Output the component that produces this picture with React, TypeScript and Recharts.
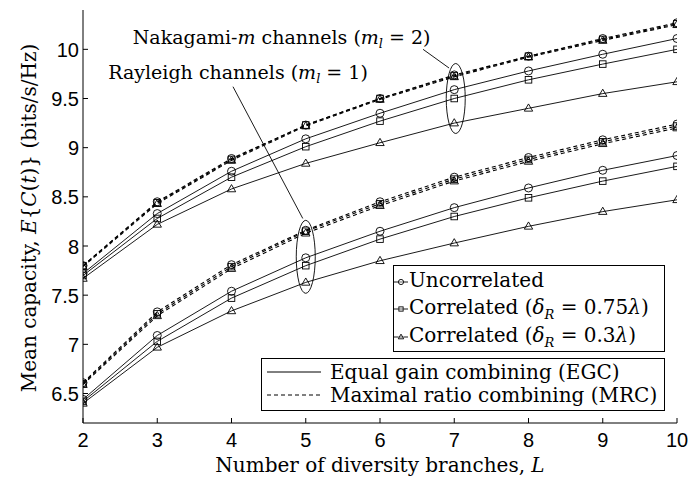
import React from "react";
import { LineChart, Line, XAxis, YAxis, ReferenceDot, ReferenceLine } from "recharts";

// number of diversity branches
const branches = [2, 3, 4, 5, 6, 7, 8, 9, 10];
const yTicks = [6.5, 7, 7.5, 8, 8.5, 9, 9.5, 10];

// Rayleigh channels (m_l = 1)
const rayEgcUnc = [6.44, 7.09, 7.54, 7.88, 8.15, 8.39, 8.59, 8.77, 8.92];
const rayEgc075 = [6.42, 7.03, 7.47, 7.8, 8.07, 8.3, 8.49, 8.66, 8.81];
const rayEgc03 = [6.4, 6.97, 7.34, 7.63, 7.85, 8.03, 8.2, 8.35, 8.47];
const rayMrcUnc = [6.61, 7.33, 7.81, 8.16, 8.45, 8.7, 8.9, 9.08, 9.24];
const rayMrc075 = [6.6, 7.31, 7.79, 8.15, 8.43, 8.68, 8.88, 9.06, 9.22];
const rayMrc03 = [6.59, 7.29, 7.77, 8.13, 8.41, 8.66, 8.86, 9.04, 9.2];

// Nakagami-m channels (m_l = 2)
const nakEgcUnc = [7.72, 8.33, 8.76, 9.09, 9.35, 9.59, 9.78, 9.95, 10.11];
const nakEgc075 = [7.7, 8.28, 8.7, 9.01, 9.27, 9.5, 9.69, 9.85, 10.0];
const nakEgc03 = [7.67, 8.22, 8.58, 8.84, 9.05, 9.25, 9.4, 9.55, 9.67];
const nakMrcUnc = [7.8, 8.45, 8.89, 9.23, 9.5, 9.74, 9.93, 10.11, 10.27];
const nakMrc075 = [7.8, 8.44, 8.88, 9.23, 9.5, 9.73, 9.93, 10.1, 10.26];
const nakMrc03 = [7.79, 8.43, 8.87, 9.22, 9.49, 9.72, 9.92, 10.09, 10.25];

// annotation anchors (branches, capacity)
const nakText = { x: 2.67, y: 10.054 };
const rayText = { x: 2.34, y: 9.7 };
const nakPointer = [{ x: 6.58, y: 10.0 }, { x: 6.93, y: 9.81 }];
const rayPointer = [{ x: 4.02, y: 9.62 }, { x: 4.96, y: 8.28 }];
const nakEllipse = { x: 7.02, y: 9.5 };
const rayEllipse = { x: 5, y: 7.89 };

const series = [
  { key: "rayEgcUnc", values: rayEgcUnc, dashed: false, marker: "circle" },
  { key: "rayEgc075", values: rayEgc075, dashed: false, marker: "square" },
  { key: "rayEgc03", values: rayEgc03, dashed: false, marker: "triangle" },
  { key: "rayMrcUnc", values: rayMrcUnc, dashed: true, marker: "circle" },
  { key: "rayMrc075", values: rayMrc075, dashed: true, marker: "square" },
  { key: "rayMrc03", values: rayMrc03, dashed: true, marker: "triangle" },
  { key: "nakEgcUnc", values: nakEgcUnc, dashed: false, marker: "circle" },
  { key: "nakEgc075", values: nakEgc075, dashed: false, marker: "square" },
  { key: "nakEgc03", values: nakEgc03, dashed: false, marker: "triangle" },
  { key: "nakMrcUnc", values: nakMrcUnc, dashed: true, marker: "circle" },
  { key: "nakMrc075", values: nakMrc075, dashed: true, marker: "square" },
  { key: "nakMrc03", values: nakMrc03, dashed: true, marker: "triangle" },
];

const rows = branches.map((L, i) => {
  const r: Record<string, number> = { L };
  series.forEach((s) => (r[s.key] = s.values[i]));
  return r;
});

const SERIF = "'DejaVu Serif', serif";
const SANS = "'Liberation Sans', Arial, sans-serif";

function Marker({ kind, cx, cy, s }: { kind: string; cx: number; cy: number; s: number }) {
  if (kind === "circle")
    return <circle cx={cx} cy={cy} r={s} fill="none" stroke="#000" strokeWidth={0.9} />;
  if (kind === "square")
    return (
      <rect x={cx - s * 0.82} y={cy - s * 0.82} width={s * 1.64} height={s * 1.64} fill="none" stroke="#000" strokeWidth={0.9} />
    );
  return (
    <polygon
      points={`${cx},${cy - s * 1.1} ${cx - s * 1.05},${cy + s * 0.7} ${cx + s * 1.05},${cy + s * 0.7}`}
      fill="none"
      stroke="#000"
      strokeWidth={0.9}
    />
  );
}

const BottomTick = (p: any) => (
  <g>
    <line x1={p.x} y1={p.y} x2={p.x} y2={p.y - 5} stroke="#000" />
    <text x={p.x} y={p.y + 24} textAnchor="middle" fontFamily={SANS} fontSize={20} fill="#000">
      {p.payload.value}
    </text>
  </g>
);
const TopTick = (p: any) => <line x1={p.x} y1={p.y} x2={p.x} y2={p.y + 5} stroke="#000" />;
const LeftTick = (p: any) => (
  <g>
    <line x1={p.x} y1={p.y} x2={p.x + 5} y2={p.y} stroke="#000" />
    <text x={p.x - 4} y={p.y + 7.5} textAnchor="end" fontFamily={SANS} fontSize={20} fill="#000">
      {p.payload.value}
    </text>
  </g>
);
const RightTick = (p: any) => <line x1={p.x} y1={p.y} x2={p.x - 5} y2={p.y} stroke="#000" />;

const YLabel = () => (
  <text transform="translate(36,218) rotate(-90)" textAnchor="middle" fontFamily={SERIF} fontSize={20} fill="#000">
    Mean capacity, <tspan fontStyle="italic">E</tspan>
    {"{"}
    <tspan fontStyle="italic">C</tspan>(<tspan fontStyle="italic">t</tspan>){"}"} (bits/s/Hz)
  </text>
);
const XLabel = () => (
  <text x={380} y={472} textAnchor="middle" fontFamily={SERIF} fontSize={20} fill="#000">
    Number of diversity branches, <tspan fontStyle="italic">L</tspan>
  </text>
);

const ChannelText = ({ cx, cy, name, italicM, ml }: any) => (
  <text x={cx} y={cy} fontFamily={SERIF} fontSize={19} fill="#000">
    {name}
    {italicM ? <tspan fontStyle="italic">m</tspan> : null} channels (<tspan fontStyle="italic">m</tspan>
    <tspan dy={4} fontSize={13} fontStyle="italic">l</tspan>
    <tspan dy={-4}> = {ml})</tspan>
  </text>
);

const LegendSample = ({ kind }: { kind: string }) => (
  <svg width={14} height={12} style={{ display: "inline-block", verticalAlign: "middle", marginRight: 1 }}>
    <line x1={0} y1={6} x2={4} y2={6} stroke="#000" strokeWidth={0.9} />
    <line x1={10} y1={6} x2={14} y2={6} stroke="#000" strokeWidth={0.9} />
    <line x1={4} y1={6} x2={10} y2={6} stroke="#000" strokeWidth={0.6} />
    <Marker kind={kind} cx={7} cy={6} s={2.6} />
  </svg>
);

const row = (top: number): React.CSSProperties => ({
  position: "absolute",
  top,
  left: 0,
  whiteSpace: "nowrap",
  lineHeight: "24px",
});

export default function App() {
  return (
    <div style={{ position: "absolute", left: 0, top: 0, width: 690, height: 480, background: "#fff" }}>
      <LineChart width={690} height={480} data={rows} margin={{ top: 10, right: 13, bottom: 0, left: 0 }}>
        <XAxis
          xAxisId="b"
          dataKey="L"
          type="number"
          domain={[2, 10]}
          ticks={branches}
          allowDataOverflow
          height={57}
          tickSize={0}
          tickMargin={0}
          axisLine={{ stroke: "#000" }}
          tick={BottomTick}
        />
        <XAxis
          xAxisId="t"
          dataKey="L"
          orientation="top"
          type="number"
          domain={[2, 10]}
          ticks={branches}
          allowDataOverflow
          height={0}
          tickSize={0}
          tickMargin={0}
          axisLine={{ stroke: "#000" }}
          tick={TopTick}
        />
        <YAxis
          yAxisId="l"
          type="number"
          domain={[6.2, 10.4]}
          ticks={yTicks}
          allowDataOverflow
          width={83}
          tickSize={0}
          tickMargin={0}
          axisLine={{ stroke: "#000" }}
          tick={LeftTick}
          label={<YLabel />}
        />
        <YAxis
          yAxisId="r"
          orientation="right"
          type="number"
          domain={[6.2, 10.4]}
          ticks={yTicks}
          allowDataOverflow
          width={0}
          tickSize={0}
          tickMargin={0}
          axisLine={{ stroke: "#000" }}
          tick={RightTick}
        />
        {series.map((s) => (
          <Line
            key={s.key}
            xAxisId="b"
            yAxisId="l"
            dataKey={s.key}
            type="linear"
            stroke="#000"
            strokeWidth={s.dashed ? 1.1 : 0.9}
            strokeDasharray={s.dashed ? "4 3" : undefined}
            isAnimationActive={false}
            dot={(p: any) => <Marker key={`${s.key}-${p.index}`} kind={s.marker} cx={p.cx} cy={p.cy} s={4} />}
            activeDot={false}
          />
        ))}
        <ReferenceLine xAxisId="b" yAxisId="l" segment={nakPointer} stroke="#000" strokeWidth={0.9} />
        <ReferenceLine xAxisId="b" yAxisId="l" segment={rayPointer} stroke="#000" strokeWidth={0.9} />
        <ReferenceDot
          xAxisId="b"
          yAxisId="l"
          x={nakEllipse.x}
          y={nakEllipse.y}
          shape={(p: any) => <ellipse cx={p.cx} cy={p.cy} rx={9.5} ry={35} fill="none" stroke="#000" strokeWidth={0.9} />}
        />
        <ReferenceDot
          xAxisId="b"
          yAxisId="l"
          x={rayEllipse.x}
          y={rayEllipse.y}
          shape={(p: any) => <ellipse cx={p.cx} cy={p.cy} rx={9.5} ry={36.5} fill="none" stroke="#000" strokeWidth={0.9} />}
        />
        <ReferenceDot
          xAxisId="b"
          yAxisId="l"
          x={nakText.x}
          y={nakText.y}
          shape={(p: any) => <ChannelText cx={p.cx} cy={p.cy} name="Nakagami-" italicM ml={2} />}
        />
        <ReferenceDot
          xAxisId="b"
          yAxisId="l"
          x={rayText.x}
          y={rayText.y}
          shape={(p: any) => <ChannelText cx={p.cx} cy={p.cy} name="Rayleigh" ml={1} />}
        />
        <XLabel />
      </LineChart>

      <div
        style={{
          position: "absolute",
          left: 393,
          top: 265,
          width: 270,
          height: 85,
          border: "1px solid #000",
          background: "#fff",
          fontFamily: SERIF,
          fontSize: 20,
        }}
      >
        <div style={{ ...row(2), left: 0 }}>
          <LegendSample kind="circle" />Uncorrelated
        </div>
        <div style={{ ...row(29), left: 0 }}>
          <LegendSample kind="square" />Correlated (<i>δ</i>
          <sub style={{ fontSize: 13, fontStyle: "italic" }}>R</sub> = 0.75<i>λ</i>)
        </div>
        <div style={{ ...row(57), left: 0 }}>
          <LegendSample kind="triangle" />Correlated (<i>δ</i>
          <sub style={{ fontSize: 13, fontStyle: "italic" }}>R</sub> = 0.3<i>λ</i>)
        </div>
      </div>

      <div
        style={{
          position: "absolute",
          left: 261,
          top: 358,
          width: 402,
          height: 51,
          border: "1px solid #000",
          background: "#fff",
          fontFamily: SERIF,
          fontSize: 20,
        }}
      >
        <div style={{ ...row(1), left: 5, display: "flex", alignItems: "center" }}>
          <svg width={54} height={10} style={{ marginRight: 9 }}>
            <line x1={0} y1={5} x2={54} y2={5} stroke="#000" strokeWidth={1} />
          </svg>
          Equal gain combining (EGC)
        </div>
        <div style={{ ...row(24), left: 5, display: "flex", alignItems: "center" }}>
          <svg width={54} height={10} style={{ marginRight: 9 }}>
            <line x1={0} y1={5} x2={54} y2={5} stroke="#000" strokeWidth={1} strokeDasharray="4 3" />
          </svg>
          Maximal ratio combining (MRC)
        </div>
      </div>
    </div>
  );
}
